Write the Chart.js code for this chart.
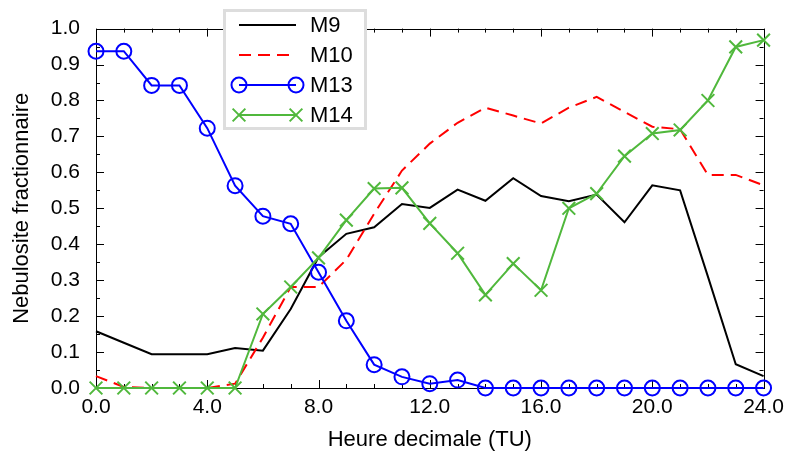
<!DOCTYPE html>
<html>
<head>
<meta charset="utf-8">
<script src="https://cdn.jsdelivr.net/npm/chart.js@4/dist/chart.umd.min.js"></script>
<style>
html,body{margin:0;padding:0;background:#fff;}
#wrap{width:791px;height:453px;position:relative;}
</style>
</head>
<body>
<div id="wrap"><canvas id="c" width="791" height="453"></canvas></div>
<script>
const hours = [0,1,2,3,4,5,6,7,8,9,10,11,12,13,14,15,16,17,18,19,20,21,22,23,24];
const m9  = [0.158,0.126,0.094,0.094,0.094,0.111,0.104,0.220,0.364,0.429,0.447,0.512,0.501,0.552,0.521,0.584,0.534,0.520,0.538,0.461,0.564,0.550,0.310,0.066,0.033];
const m10 = [0.033,0.003,0.000,0.000,0.000,0.012,0.140,0.281,0.281,0.357,0.485,0.605,0.680,0.738,0.780,0.758,0.736,0.780,0.810,0.768,0.727,0.720,0.593,0.593,0.564];
const m13 = [0.937,0.937,0.842,0.842,0.723,0.563,0.478,0.457,0.322,0.187,0.065,0.031,0.012,0.022,0,0,0,0,0,0,0,0,0,0,0];
const m14 = [0,0,0,0,0,0,0.206,0.281,0.362,0.467,0.555,0.557,0.458,0.375,0.259,0.346,0.272,0.500,0.541,0.645,0.708,0.718,0.800,0.949,0.968];
const seriesNames = ['M9','M10','M13','M14'];
const xTicks = [0,4,8,12,16,20,24];
const xTitle = 'Heure decimale (TU)';
const yTitle = 'Nebulosite fractionnaire';

const FONT = "'Liberation Sans', Arial, Helvetica, sans-serif";
const GREEN = '#50b83c';

const pts = arr => hours.map((h,i)=>({x:h,y:arr[i]}));

const styles = [
  {borderColor:'#000000', borderWidth:2, pointRadius:0, borderDash:[], pointStyle:false, order:3},
  {borderColor:'#ff0000', borderWidth:2, pointRadius:0, borderDash:[12,7], pointStyle:false, order:2},
  {borderColor:'#0000ff', borderWidth:2, pointRadius:7.5, borderDash:[], pointStyle:'circle', order:1},
  {borderColor:GREEN, borderWidth:2, pointRadius:9, borderDash:[], pointStyle:'crossRot', order:0}
];
const values = [m9,m10,m13,m14];

const datasets = values.map((v,i)=>({
  label: seriesNames[i],
  data: pts(v),
  borderColor: styles[i].borderColor,
  backgroundColor: 'rgba(0,0,0,0)',
  pointBackgroundColor: 'rgba(0,0,0,0)',
  pointBorderColor: styles[i].borderColor,
  pointBorderWidth: 2,
  pointHoverRadius: styles[i].pointRadius,
  borderWidth: styles[i].borderWidth,
  borderDash: styles[i].borderDash,
  pointRadius: styles[i].pointRadius,
  pointStyle: styles[i].pointStyle || 'circle',
  tension: 0,
  fill: false,
  clip: false,
  order: styles[i].order
}));

const framePlugin = {
  id: 'frame',
  beforeDatasetsDraw(chart){
    const {ctx, chartArea:a, scales:{x,y}} = chart;
    ctx.save();
    ctx.strokeStyle = '#000';
    ctx.lineWidth = 1;
    ctx.strokeRect(Math.round(a.left)+0.5, Math.round(a.top)+0.5, Math.round(a.right-a.left), Math.round(a.bottom-a.top));
    ctx.beginPath();
    for (let h=0; h<=24; h++){
      const px = Math.round(x.getPixelForValue(h))+0.5;
      const len = (h%4===0)?8:4;
      ctx.moveTo(px, a.bottom); ctx.lineTo(px, a.bottom-len);
      ctx.moveTo(px, a.top); ctx.lineTo(px, a.top+len);
    }
    for (let k=0; k<=20; k++){
      const v = k*0.05;
      const py = Math.round(y.getPixelForValue(v))+0.5;
      const len = (k%2===0)?8:4;
      ctx.moveTo(a.left, py); ctx.lineTo(a.left+len, py);
      ctx.moveTo(a.right, py); ctx.lineTo(a.right-len, py);
    }
    ctx.stroke();
    ctx.restore();
  }
};

const legendPlugin = {
  id: 'customLegend',
  afterDraw(chart){
    const ctx = chart.ctx;
    ctx.save();
    const bx=224.5, by=10.5, bw=141, bh=118;
    ctx.fillStyle='#fff';
    ctx.fillRect(bx,by,bw,bh);
    ctx.strokeStyle='#dddddd';
    ctx.lineWidth=3;
    ctx.strokeRect(bx,by,bw,bh);
    const rows=[25,55,85,115];
    const x0=239, x1=296;
    datasets.forEach((d,i)=>{
      const yy=rows[i];
      ctx.strokeStyle=d.borderColor;
      ctx.lineWidth=2;
      ctx.setLineDash(d.borderDash);
      ctx.beginPath(); ctx.moveTo(x0,yy); ctx.lineTo(x1,yy); ctx.stroke();
      ctx.setLineDash([]);
      if (d.pointRadius>0){
        [x0,x1].forEach(px=>{
          ctx.fillStyle='rgba(0,0,0,0)';
          ctx.strokeStyle=d.borderColor;
          ctx.lineWidth=2;
          Chart.helpers.drawPoint(ctx,{pointStyle:d.pointStyle, radius:d.pointRadius, borderWidth:2, rotation:0}, px, yy);
        });
      }
      ctx.fillStyle='#000';
      ctx.font='22px '+FONT;
      ctx.textBaseline='middle';
      ctx.textAlign='left';
      ctx.fillText(d.label, 310, yy+1);
    });
    ctx.restore();
  }
};

new Chart(document.getElementById('c'), {
  type: 'line',
  data: { datasets },
  options: {
    responsive: false,
    animation: false,
    devicePixelRatio: 1,
    layout: { padding: { top: 25, right: 23, left: 0, bottom: 0 } },
    plugins: { legend: { display: false }, tooltip: { enabled: false } },
    scales: {
      x: {
        type: 'linear', min: 0, max: 24,
        afterBuildTicks(s){ s.ticks = xTicks.map(v=>({value:v})); },
        afterFit(s){ s.height = 65; },
        grid: { display: false, drawTicks: false },
        border: { display: false },
        ticks: { color:'#000', padding: 7, maxRotation:0, autoSkip:false, font:{family:FONT,size:21}, callback: v => Number(v).toFixed(1) },
        title: { display: true, text: xTitle, color:'#000', font:{family:FONT,size:22}, padding:{top:0,bottom:0} }
      },
      y: {
        type: 'linear', min: 0, max: 1,
        afterFit(s){ s.width = 96; },
        grid: { display: false, drawTicks: false },
        border: { display: false },
        ticks: { color:'#000', padding: 16, stepSize: 0.1, autoSkip:false, font:{family:FONT,size:21}, callback: v => Number(v).toFixed(1) },
        title: { display: true, text: yTitle, color:'#000', font:{family:FONT,size:22}, padding:{top:9,bottom:0} }
      }
    }
  },
  plugins: [framePlugin, legendPlugin]
});
</script>
</body>
</html>
